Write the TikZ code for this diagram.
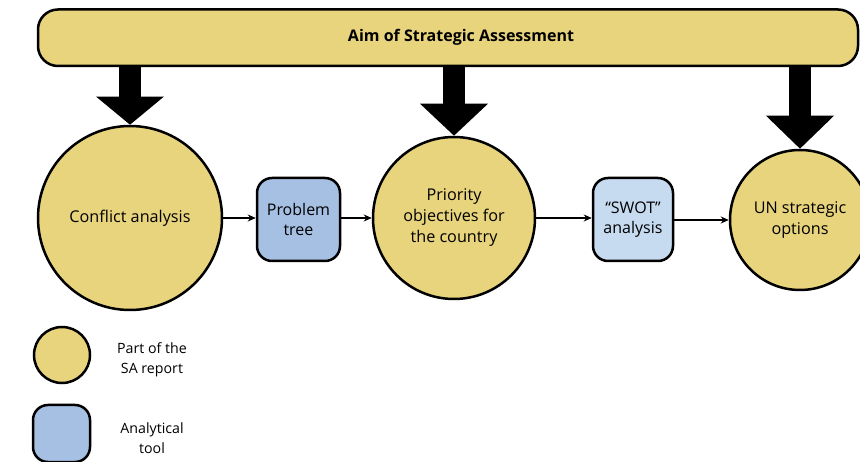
\documentclass[tikz,border=0pt]{standalone}
\usepackage{fontspec}
\setmainfont{Open Sans}
\usetikzlibrary{arrows.meta}
\definecolor{sayellow}{HTML}{E8D47C}
\definecolor{toolblue}{HTML}{A6C0E4}
\definecolor{lightblue}{HTML}{C6DAF0}
\tikzset{
  x=1pt, y=1pt,
  part/.style={circle, draw=black, line width=2.5pt, fill=sayellow, align=center, inner sep=0pt, font=\fontsize{16.2}{21}\selectfont},
  tool/.style={rounded corners=15pt, draw=black, line width=2.5pt, align=center, inner sep=0pt, font=\fontsize{16}{20.5}\selectfont},
  flow/.style={line width=1.2pt, -{Stealth[length=8pt,width=7pt]}},
  big/.style={line width=22pt, -{Triangle[width=66pt,length=#1]}},
  legtext/.style={align=center, font=\fontsize{14.2}{20}\selectfont}
}
\begin{document}
\begin{tikzpicture}
\useasboundingbox (0,0) rectangle (860,-462);
% top bar
\node[draw=black, line width=2.5pt, fill=sayellow, rounded corners=20pt, minimum width=820pt, minimum height=56.5pt, inner sep=0pt] (bar) at (448,-37.75) {};
\node[font=\bfseries\fontsize{16}{18}\selectfont] (aim) at (461,-37) {Aim of Strategic Assessment};
% circles and tools
\node[part, minimum size=184pt] (c1) at (130,-218) {\raisebox{-2pt}{Conflict analysis}};
\node[part, minimum size=162pt] (c2) at (454,-218) {Priority\\objectives for\\the country};
\node[part, minimum size=140pt] (c3) at (800,-220) {UN strategic\\options};
\node[tool, fill=toolblue, minimum width=83pt, minimum height=83pt] (pt) at (298.5,-219.5) {Problem\\tree};
\node[tool, fill=lightblue, minimum width=80pt, minimum height=83pt] (sw) at (633,-219.5) {``SWOT''\\analysis};
% big arrows
\draw[big=28pt] (bar.south -| c1) -- (c1.north);
\draw[big=32pt] (bar.south -| c2) -- (c2.north);
\draw[big=33pt] (bar.south -| c3) -- (c3.north);
% flow
\draw[flow] (c1.east) -- (pt.west |- c1.east);
\draw[flow] (pt.east |- c2.west) -- (c2.west);
\draw[flow] (c2.east) -- (sw.west |- c2.east);
\draw[flow] (sw.east |- c3.west) -- (c3.west);
% legend
\node[part, minimum size=56pt] (lc) at (62,-355) {};
\node[tool, fill=toolblue, minimum width=57pt, minimum height=57pt] (lb) at (61.5,-433.5) {};
\node[legtext] (lct) at (152,-360) {Part of the\\SA report};
\node[legtext] (lbt) at (152,-438) {Analytical\\tool};
\end{tikzpicture}
\end{document}
